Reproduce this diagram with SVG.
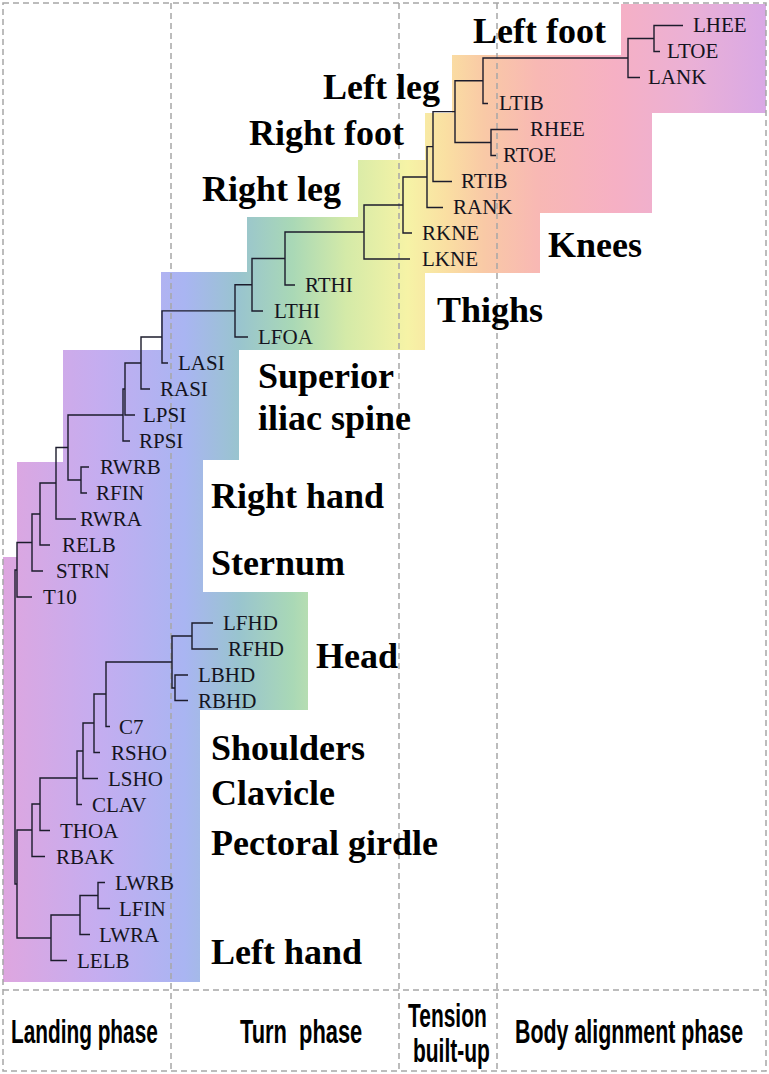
<svg xmlns="http://www.w3.org/2000/svg" width="769" height="1074" viewBox="0 0 769 1074">
<defs>
<linearGradient id="rainbow" gradientUnits="userSpaceOnUse" x1="0" y1="0" x2="769" y2="0">
<stop offset="0" stop-color="#dfa6df"/>
<stop offset="0.13" stop-color="#c4adf0"/>
<stop offset="0.24" stop-color="#a9b5f2"/>
<stop offset="0.31" stop-color="#99c4cf"/>
<stop offset="0.38" stop-color="#a9d8b6"/>
<stop offset="0.45" stop-color="#d4eaa8"/>
<stop offset="0.53" stop-color="#f6f3a6"/>
<stop offset="0.58" stop-color="#fadfa2"/>
<stop offset="0.63" stop-color="#f9c9a6"/>
<stop offset="0.70" stop-color="#f8b8b4"/>
<stop offset="0.80" stop-color="#f6b0c4"/>
<stop offset="0.90" stop-color="#eab0d6"/>
<stop offset="1" stop-color="#d8a8e6"/>
</linearGradient>
<style>
.dash{fill:none;stroke:#a6a6a6;stroke-width:1.5;stroke-dasharray:6 4}
.br{fill:none;stroke:#1c1c2c;stroke-width:1.4}
.leaf{font-family:"Liberation Serif","Times New Roman",serif;font-size:21px;fill:#141420}
.big{font-family:"Liberation Serif","Times New Roman",serif;font-size:36px;font-weight:bold;fill:#000}
.ph{font-family:"Liberation Sans","Arial",sans-serif;font-size:34px;font-weight:bold;fill:#000}
</style>
</defs>
<rect width="769" height="1074" fill="#fff"/>
<polygon fill="url(#rainbow)" points="452,55 621,55 621,4 766,4 766,113 652,113 652,213 540,213 540,273 425,273 425,350 239,350 239,460 203,460 203,592 308,592 308,710 200,710 200,982 3,982 3,557 17,557 17,462 63,462 63,350 161,350 161,272 247,272 247,217 358,217 358,160 425,160 425,113 452,113"/>

<g id="grid">
<rect class="dash" x="3" y="3" width="763" height="1068"/>
<line class="dash" x1="171" y1="3" x2="171" y2="1071"/>
<line class="dash" x1="399" y1="3" x2="399" y2="1071"/>
<line class="dash" x1="497" y1="3" x2="497" y2="1071"/>
<line class="dash" x1="3" y1="990" x2="766" y2="990"/>
</g>

<g id="connectors" class="br">
<path d="M683 25.5H654V51.5H660"/>
<path d="M654 38.5H628V77.5H640"/>
<path d="M628 58H483V103.5H488"/>
<path d="M518 129.5H491V155.5H496"/>
<path d="M483 80.75H455V142.5H491"/>
<path d="M455 111.6H433V181.5H452"/>
<path d="M433 146.6H427V207.5H443"/>
<path d="M427 177H403V233H412"/>
<path d="M403 205H364V259H410"/>
<path d="M364 232H285V285H295"/>
<path d="M285 258.5H252V311H263"/>
<path d="M252 284.75H235V337H248"/>
<path d="M235 310.9H162V363H168"/>
<path d="M162 337H141V389H150"/>
<path d="M141 363H125V415H135"/>
<path d="M125 389H123V441H130"/>
<path d="M89 467H81V493H87"/>
<path d="M123 415H68V480H81"/>
<path d="M68 447.5H56V519H76"/>
<path d="M56 483H40V545H50"/>
<path d="M40 514H32V571H43"/>
<path d="M32 542.5H17V597H32"/>
<path d="M213 623H192V649H218"/>
<path d="M188 675H175V700.5H188"/>
<path d="M192 636H172V688H175"/>
<path d="M172 662H106V726.5H110"/>
<path d="M106 694H94V752.5H100"/>
<path d="M94 723H83V778.5H98"/>
<path d="M83 751H77V804.5H82"/>
<path d="M77 778H40V830.5H50"/>
<path d="M40 804H32V856.5H45"/>
<path d="M105 882.5H98V908.5H110"/>
<path d="M98 895.5H80V934.5H90"/>
<path d="M80 915H51V960.5H67"/>
<path d="M32 830H17V938H51"/>
<path d="M17 570H15V884H17"/>
</g>

<g id="leaves" class="leaf">
<g id="n-LHEE"><text x="693" y="32">LHEE</text></g>
<g id="n-LTOE"><text x="667" y="58">LTOE</text></g>
<g id="n-LANK"><text x="648" y="84">LANK</text></g>
<g id="n-LTIB"><text x="499" y="110">LTIB</text></g>
<g id="n-RHEE"><text x="530" y="136">RHEE</text></g>
<g id="n-RTOE"><text x="503" y="162">RTOE</text></g>
<g id="n-RTIB"><text x="461" y="188">RTIB</text></g>
<g id="n-RANK"><text x="453" y="214">RANK</text></g>
<g id="n-RKNE"><text x="422" y="240">RKNE</text></g>
<g id="n-LKNE"><text x="422" y="266">LKNE</text></g>
<g id="n-RTHI"><text x="305" y="292">RTHI</text></g>
<g id="n-LTHI"><text x="274" y="318">LTHI</text></g>
<g id="n-LFOA"><text x="258" y="344">LFOA</text></g>
<g id="n-LASI"><text x="178" y="370">LASI</text></g>
<g id="n-RASI"><text x="160" y="396">RASI</text></g>
<g id="n-LPSI"><text x="143" y="422">LPSI</text></g>
<g id="n-RPSI"><text x="139" y="448">RPSI</text></g>
<g id="n-RWRB"><text x="100" y="474">RWRB</text></g>
<g id="n-RFIN"><text x="96" y="500">RFIN</text></g>
<g id="n-RWRA"><text x="80" y="526">RWRA</text></g>
<g id="n-RELB"><text x="62" y="552">RELB</text></g>
<g id="n-STRN"><text x="56" y="578">STRN</text></g>
<g id="n-T10"><text x="43" y="604">T10</text></g>
<g id="n-LFHD"><text x="223" y="630">LFHD</text></g>
<g id="n-RFHD"><text x="228" y="656">RFHD</text></g>
<g id="n-LBHD"><text x="198" y="682">LBHD</text></g>
<g id="n-RBHD"><text x="198" y="708">RBHD</text></g>
<g id="n-C7"><text x="119" y="734">C7</text></g>
<g id="n-RSHO"><text x="111" y="760">RSHO</text></g>
<g id="n-LSHO"><text x="108" y="786">LSHO</text></g>
<g id="n-CLAV"><text x="92" y="812">CLAV</text></g>
<g id="n-THOA"><text x="60" y="838">THOA</text></g>
<g id="n-RBAK"><text x="56" y="864">RBAK</text></g>
<g id="n-LWRB"><text x="115" y="890">LWRB</text></g>
<g id="n-LFIN"><text x="119" y="916">LFIN</text></g>
<g id="n-LWRA"><text x="99" y="942">LWRA</text></g>
<g id="n-LELB"><text x="77" y="968">LELB</text></g>
</g>

<g id="groups" class="big">
<g id="g-leftfoot"><text x="473" y="43">Left foot</text></g>
<g id="g-leftleg"><text x="323" y="99">Left leg</text></g>
<g id="g-rightfoot"><text x="249" y="145">Right foot</text></g>
<g id="g-rightleg"><text x="202" y="201">Right leg</text></g>
<g id="g-knees"><text x="548" y="257">Knees</text></g>
<g id="g-thighs"><text x="437" y="322">Thighs</text></g>
<g id="g-superior"><text x="258" y="388">Superior</text><text x="258" y="430">iliac spine</text></g>
<g id="g-righthand"><text x="211" y="508">Right hand</text></g>
<g id="g-sternum"><text x="211" y="575">Sternum</text></g>
<g id="g-head"><text x="316" y="668">Head</text></g>
<g id="g-shoulders"><text x="211" y="760">Shoulders</text></g>
<g id="g-clavicle"><text x="211" y="805">Clavicle</text></g>
<g id="g-pectoral"><text x="211" y="855">Pectoral girdle</text></g>
<g id="g-lefthand"><text x="211" y="964">Left hand</text></g>
</g>

<g id="phases" class="ph">
<g id="p-landing"><text transform="translate(11,1043) scale(0.63,1)" textLength="233" lengthAdjust="spacingAndGlyphs">Landing phase</text></g>
<g id="p-turn"><text transform="translate(240,1043) scale(0.63,1)" textLength="194" lengthAdjust="spacingAndGlyphs" xml:space="preserve">Turn  phase</text></g>
<g id="p-tension"><text transform="translate(408,1027) scale(0.63,1)" textLength="125" lengthAdjust="spacingAndGlyphs">Tension</text><text transform="translate(413,1062) scale(0.63,1)" textLength="122" lengthAdjust="spacingAndGlyphs">built-up</text></g>
<g id="p-body"><text transform="translate(515,1043) scale(0.63,1)" textLength="362" lengthAdjust="spacingAndGlyphs">Body alignment phase</text></g>
</g>
</svg>
